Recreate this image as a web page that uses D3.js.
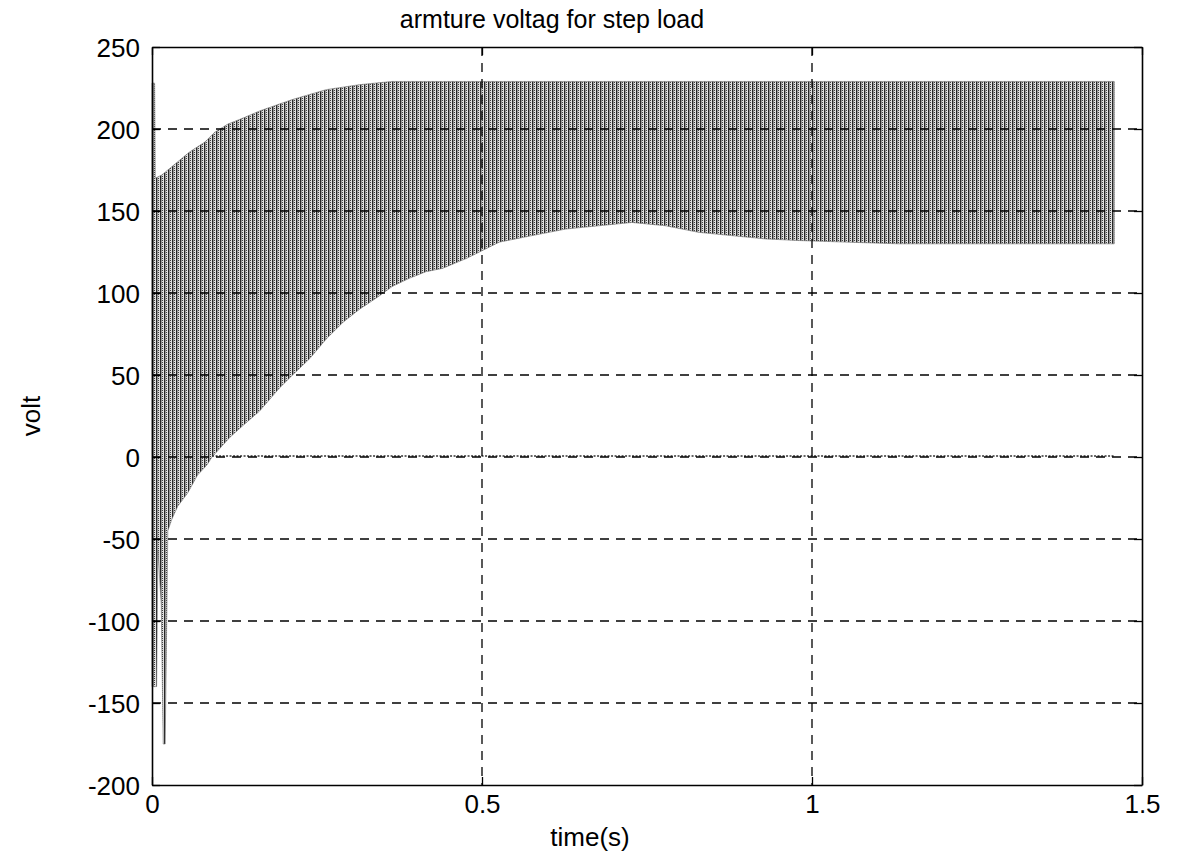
<!DOCTYPE html>
<html>
<head>
<meta charset="utf-8">
<script src="https://cdn.jsdelivr.net/npm/d3@7"></script>
<style>
  html, body { margin: 0; padding: 0; background: #fff; }
  svg { display: block; }
  text { font-family: "Liberation Sans", Arial, Helvetica, sans-serif; fill: #000; }
</style>
</head>
<body>
<svg id="chart" width="1187" height="860"></svg>
<script>
// Armature voltage under a step load: the switching waveform is summarised
// by its upper and lower envelopes (time in s, voltage in V).
const upperTime = [0, 0.004, 0.005, 0.015, 0.039, 0.057, 0.080, 0.095, 0.115, 0.140, 0.163, 0.213, 0.264, 0.314, 0.364, 0.415, 1.458];
const upperVolt = [228, 228, 170, 172, 180, 186, 192, 198, 203, 207, 211, 218, 224, 227, 229, 229, 229];

const lowerTime = [0, 0.007, 0.009, 0.014, 0.017, 0.020, 0.024, 0.030, 0.039, 0.054, 0.069, 0.083, 0.091, 0.118, 0.140, 0.163, 0.193, 0.213, 0.239, 0.264, 0.289, 0.314, 0.340, 0.364, 0.390, 0.415, 0.440, 0.476, 0.526, 0.576, 0.627, 0.677, 0.727, 0.778, 0.828, 0.878, 0.929, 0.979, 1.130, 1.458];
const lowerVolt = [-140, -140, -57, -90, -175, -175, -45, -38, -30, -22, -11, -5, 0, 12, 20, 28, 42, 50, 60, 72, 82, 90, 97, 104, 109, 113, 115, 121, 131, 135, 139, 141, 143, 141, 137, 135, 133, 132, 130, 130];

// Zero-level trace
const zeroTime = [0.091, 1.458];
const zeroVolt = [0, 0];

const xTicks = [0, 0.5, 1, 1.5];
const xTickLabels = ["0", "0.5", "1", "1.5"];
const yTicks = [-200, -150, -100, -50, 0, 50, 100, 150, 200, 250];
const yTickLabels = ["-200", "-150", "-100", "-50", "0", "50", "100", "150", "200", "250"];

const titleText = "armture voltag for step load";
const xLabelText = "time(s)";
const yLabelText = "volt";

const svg = d3.select("#chart");
const m = { left: 152, right: 1142, top: 47, bottom: 785 };

const x = d3.scaleLinear().domain([0, 1.5]).range([m.left, m.right]);
const y = d3.scaleLinear().domain([-200, 250]).range([m.bottom, m.top]);

// Hatched fill imitating the dense vertical switching strokes
const defs = svg.append("defs");
const pat = defs.append("pattern")
  .attr("id", "hatch").attr("patternUnits", "userSpaceOnUse")
  .attr("width", 4).attr("height", 2);
pat.append("rect").attr("width", 4).attr("height", 2).attr("fill", "#e0e0e0");
pat.append("rect").attr("x", 0).attr("y", 0).attr("width", 1).attr("height", 2).attr("fill", "#262626");
pat.append("rect").attr("x", 1).attr("y", 0).attr("width", 1).attr("height", 2).attr("fill", "#959595");
pat.append("rect").attr("x", 2).attr("y", 0).attr("width", 1).attr("height", 1).attr("fill", "#404040");

// Envelope band: merge both envelopes on a common time base
const allT = Array.from(new Set(upperTime.concat(lowerTime))).sort((a, b) => a - b);
const upAt = d3.scaleLinear().domain(upperTime).range(upperVolt);
const loAt = d3.scaleLinear().domain(lowerTime).range(lowerVolt);
const band = allT.map(t => ({ t, hi: upAt(t), lo: loAt(t) }));

const area = d3.area()
  .x(d => x(d.t)).y0(d => y(d.lo)).y1(d => y(d.hi));

const plot = svg.append("g");

plot.append("path").datum(band)
  .attr("d", area)
  .attr("fill", "url(#hatch)")
  .attr("stroke", "#6a6a6a").attr("stroke-width", 0.6);

// zero-level dotted trace
plot.append("path")
  .datum(zeroTime.map((t, i) => ({ t, v: zeroVolt[i] })))
  .attr("d", d3.line().x(d => x(d.t)).y(d => y(d.v) - 1))
  .attr("fill", "none").attr("stroke", "#333")
  .attr("stroke-width", 1.4).attr("stroke-dasharray", "2,1.5");

// Grid
const grid = svg.append("g").attr("stroke", "#000").attr("stroke-width", 1.3)
  .attr("stroke-dasharray", "9,7");
grid.selectAll(".gy").data(yTicks.slice(1, -1)).join("line")
  .attr("x1", m.left).attr("x2", m.right)
  .attr("y1", d => y(d)).attr("y2", d => y(d));
grid.selectAll(".gx").data(xTicks.slice(1, -1)).join("line")
  .attr("y1", m.top).attr("y2", m.bottom)
  .attr("x1", d => x(d)).attr("x2", d => x(d));

// Axes (ticks pointing inward, box around plot)
const tickLen = 8;
const xAxisB = d3.axisBottom(x).tickValues(xTicks).tickFormat((d, i) => xTickLabels[i])
  .tickSizeInner(-tickLen).tickSizeOuter(0).tickPadding(10);
const yAxisL = d3.axisLeft(y).tickValues(yTicks).tickFormat((d, i) => yTickLabels[i])
  .tickSizeInner(-tickLen).tickSizeOuter(0).tickPadding(12);

const gx = svg.append("g").attr("transform", `translate(0,${m.bottom})`).call(xAxisB);
const gy = svg.append("g").attr("transform", `translate(${m.left},0)`).call(yAxisL);
svg.append("g").attr("transform", `translate(0,${m.top})`)
  .call(d3.axisTop(x).tickValues(xTicks).tickFormat("").tickSizeInner(-tickLen).tickSizeOuter(0));
svg.append("g").attr("transform", `translate(${m.right},0)`)
  .call(d3.axisRight(y).tickValues(yTicks).tickFormat("").tickSizeInner(-tickLen).tickSizeOuter(0));

svg.selectAll(".domain").attr("stroke", "#000").attr("stroke-width", 1.6);
svg.selectAll(".tick line").attr("stroke", "#000").attr("stroke-width", 1.3);
gx.selectAll("text").attr("font-size", 26).attr("font-family", "Liberation Sans, Arial, sans-serif");
gy.selectAll("text").attr("font-size", 26).attr("font-family", "Liberation Sans, Arial, sans-serif")
  .attr("dy", "0.35em");

// Titles
svg.append("text").attr("x", 552).attr("y", 28)
  .attr("text-anchor", "middle").attr("font-size", 25).text(titleText);
svg.append("text").attr("x", 590).attr("y", 846)
  .attr("text-anchor", "middle").attr("font-size", 26).text(xLabelText);
svg.append("text")
  .attr("transform", `translate(40,${(m.top + m.bottom) / 2}) rotate(-90)`)
  .attr("text-anchor", "middle").attr("font-size", 26).text(yLabelText);
</script>
</body>
</html>
